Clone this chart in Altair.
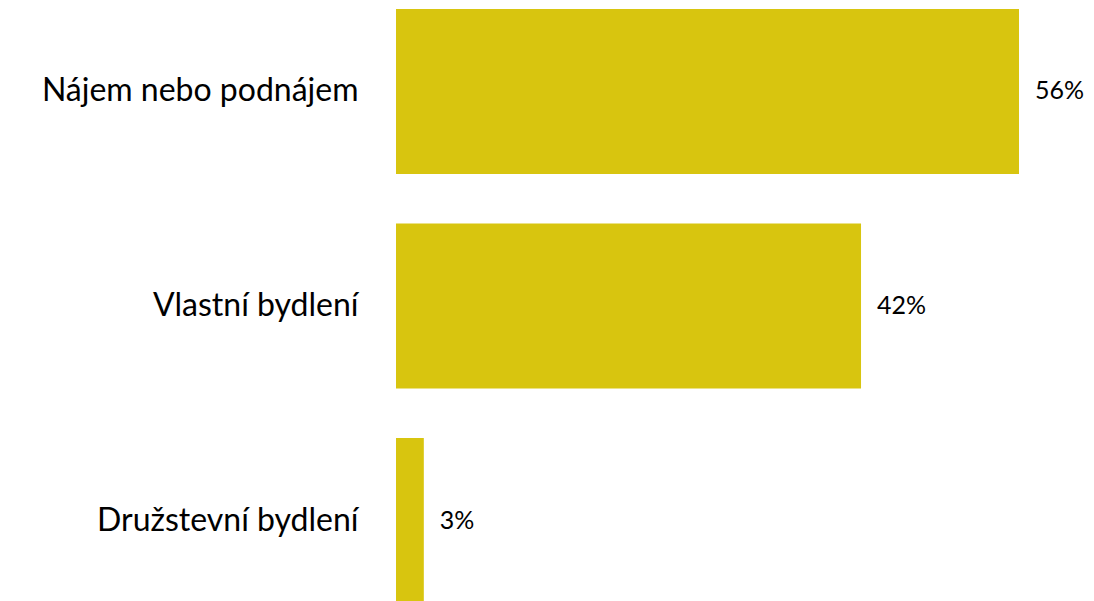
import altair as alt
import pandas as pd

categories = ["Nájem nebo podnájem", "Vlastní bydlení", "Družstevní bydlení"]
values = [56, 41.8, 2.5]
labels = ["56%", "42%", "3%"]

df = pd.DataFrame({"cat": categories, "val": values, "lab": labels})

y = alt.Y(
    "cat:N",
    sort=categories,
    scale=alt.Scale(paddingInner=0.231, paddingOuter=0),
    axis=alt.Axis(
        title=None, domain=False, ticks=False, labelFontSize=32, labelFont="Lato",
        labelColor="#000000", labelPadding=38, labelLimit=400,
    ),
)
x = alt.X("val:Q", scale=alt.Scale(domain=[0, 60]), axis=None)

bars = alt.Chart(df).mark_bar(color="#D8C50F").encode(x=x, y=y)
text = alt.Chart(df).mark_text(
    align="left", baseline="middle", dx=16, fontSize=25, font="Lato", color="#000000"
).encode(x=x, y=y, text="lab:N")

chart = (bars + text).properties(
    width=667.5,
    height=594,
    autosize=alt.AutoSizeParams(type="none"),
    padding={"left": 388, "top": 1, "right": 22, "bottom": 0},
).configure_view(stroke=None)

chart.save("out.html", embed_options={"renderer": "svg", "actions": False})
